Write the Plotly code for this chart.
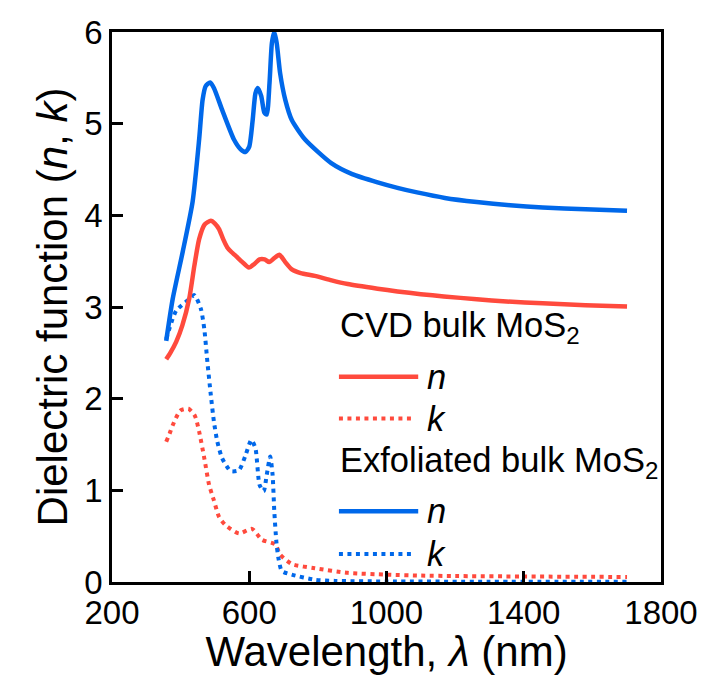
import plotly.graph_objects as go

# Exfoliated bulk MoS2, refractive index n
exf_n_wl = [358, 377, 406, 435, 454, 464, 473, 486, 497, 521, 555, 575, 589, 600, 610, 618, 625, 635,
            644, 651, 659, 666, 673, 680, 690, 705, 724, 762, 839, 900, 974, 1032, 1089, 1170, 1263, 1360, 1455, 1580, 1701]
exf_n = [2.63, 3.09, 3.60, 4.15, 4.83, 5.26, 5.41, 5.45, 5.39, 5.15, 4.83, 4.72, 4.69, 4.75, 5.04, 5.33, 5.39, 5.30,
         5.12, 5.10, 5.44, 5.88, 6.00, 5.88, 5.55, 5.26, 5.04, 4.83, 4.57, 4.45, 4.36, 4.30, 4.25, 4.19, 4.145, 4.11, 4.085, 4.065, 4.05]

# Exfoliated bulk MoS2, extinction coefficient k
exf_k_wl = [358, 387, 420, 440, 459, 469, 478, 488, 497, 507, 521, 546, 570, 589, 606, 618, 630, 642,
            651, 661, 668, 673, 679, 685, 695, 724, 791, 850, 1000, 1300, 1701]
exf_k = [2.65, 2.96, 3.07, 3.13, 2.98, 2.76, 2.40, 2.04, 1.75, 1.53, 1.35, 1.21, 1.22, 1.38, 1.55, 1.46, 1.06, 0.99,
         1.17, 1.37, 1.17, 0.77, 0.44, 0.26, 0.12, 0.08, 0.025, 0.012, 0.006, 0.003, 0.002]

# CVD bulk MoS2, refractive index n
cvd_n_wl = [358, 370, 387, 405, 425, 440, 454, 470, 488, 500, 512, 524, 536, 548, 560, 580, 599, 615, 630,
            645, 658, 672, 688, 705, 724, 750, 791, 840, 887, 974, 1032, 1100, 1167, 1263, 1350, 1455, 1580, 1701]
cvd_n = [2.43, 2.50, 2.62, 2.80, 3.09, 3.45, 3.74, 3.90, 3.94, 3.91, 3.85, 3.74, 3.65, 3.60, 3.56, 3.49, 3.43, 3.47, 3.52,
         3.52, 3.49, 3.53, 3.57, 3.49, 3.41, 3.37, 3.34, 3.29, 3.25, 3.20, 3.17, 3.14, 3.115, 3.085, 3.06, 3.04, 3.02, 3.005]

# CVD bulk MoS2, extinction coefficient k
cvd_k_wl = [358, 368, 377, 399, 423, 442, 454, 469, 483, 497, 512, 531, 570, 608, 637, 676, 690, 724,
            791, 887, 1003, 1100, 1200, 1400, 1701]
cvd_k = [1.53, 1.62, 1.71, 1.87, 1.89, 1.81, 1.64, 1.35, 1.06, 0.89, 0.71, 0.62, 0.53, 0.58, 0.46, 0.41, 0.30, 0.196,
         0.15, 0.10, 0.08, 0.07, 0.065, 0.06, 0.055]

x_ticks = [200, 600, 1000, 1400, 1800]
y_ticks = [0, 1, 2, 3, 4, 5, 6]

RED = "#ff4a3d"
BLUE = "#0068ea"
FONT = "Liberation Sans, Arial, sans-serif"
DOT = "4px,4.5px"

fig = go.Figure()
fig.add_trace(go.Scatter(x=cvd_k_wl, y=cvd_k, mode="lines", line=dict(color=RED, width=4, dash=DOT, shape="spline", smoothing=0.6), showlegend=False))
fig.add_trace(go.Scatter(x=exf_k_wl, y=exf_k, mode="lines", line=dict(color=BLUE, width=4, dash=DOT, shape="spline", smoothing=0.6), showlegend=False))
fig.add_trace(go.Scatter(x=cvd_n_wl, y=cvd_n, mode="lines", line=dict(color=RED, width=4.5, shape="spline", smoothing=0.6), showlegend=False))
fig.add_trace(go.Scatter(x=exf_n_wl, y=exf_n, mode="lines", line=dict(color=BLUE, width=4.5, shape="spline", smoothing=0.6), showlegend=False))

# manual legend (paper coordinates)
L, R, T, B = 112, 666, 32, 584
W, H = 710, 675
def px(x):
    return (x - L) / (R - L)
def py(y):
    return (B - y) / (B - T)

legend_rows = [
    ("CVD bulk MoS<sub>2</sub>", None, None, 329),
    ("<i>n</i>", RED, "solid", 378),
    ("<i>k</i>", RED, "dot", 420),
    ("Exfoliated bulk MoS<sub>2</sub>", None, None, 464),
    ("<i>n</i>", BLUE, "solid", 513),
    ("<i>k</i>", BLUE, "dot", 556),
]
for text, color, style, yy in legend_rows:
    if color is None:
        fig.add_annotation(x=px(340), y=py(yy), xref="paper", yref="paper", text=text, showarrow=False,
                           xanchor="left", yanchor="middle", font=dict(size=34.5, color="black", family=FONT))
    else:
        fig.add_shape(type="line", xref="paper", yref="paper", x0=px(341), x1=px(421 if style == "solid" else 418),
                      y0=py(yy), y1=py(yy),
                      line=dict(color=color, width=4.5 if style == "solid" else 4,
                                dash="solid" if style == "solid" else DOT))
        fig.add_annotation(x=px(428), y=py(yy), xref="paper", yref="paper", text=text, showarrow=False,
                           xanchor="left", yanchor="middle", font=dict(size=34.5, color="black", family=FONT))

axis_common = dict(showline=True, linecolor="black", linewidth=2.5, mirror=True, ticks="inside",
                   ticklen=11, tickwidth=2.5, tickcolor="black", showgrid=False, zeroline=False,
                   tickfont=dict(size=33, color="black", family=FONT))

fig.update_xaxes(range=[200, 1800], tickvals=x_ticks, ticktext=[str(v) for v in x_ticks],
                 title=dict(text="Wavelength, <i>λ</i> (nm)", font=dict(size=42, color="black", family=FONT), standoff=2),
                 **axis_common)
fig.update_yaxes(range=[0, 6], tickvals=y_ticks, ticktext=[str(v) for v in y_ticks],
                 title=dict(text="Dielectric function (<i>n</i>, <i>k</i>)", font=dict(size=42, color="black", family=FONT), standoff=4),
                 **axis_common)

fig.update_layout(width=W, height=H, margin=dict(l=L, r=W - R, t=T, b=H - B),
                  plot_bgcolor="white", paper_bgcolor="white", showlegend=False)

fig.write_html("out.html")
